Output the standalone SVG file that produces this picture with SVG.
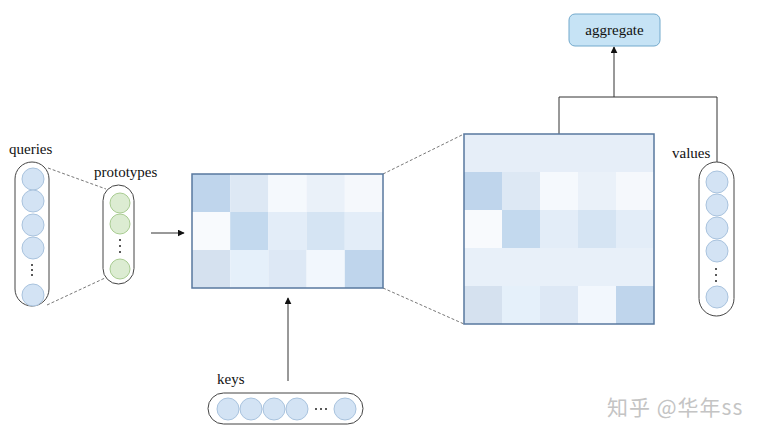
<svg xmlns="http://www.w3.org/2000/svg" width="766" height="438" viewBox="0 0 766 438">
<defs>
<style>
.lbl{font-family:"Liberation Serif","Times New Roman",serif;font-size:15px;fill:#111}
.pill{fill:#fff;stroke:#444;stroke-width:1}
.qc{fill:#d3e3f4;stroke:#a9c3de;stroke-width:1}
.gc{fill:#dcecd2;stroke:#a9cc92;stroke-width:1}
.dot{fill:#222}
.dash{stroke:#555;stroke-width:0.8;stroke-dasharray:3,2;fill:none}
.line{stroke:#333;stroke-width:1;fill:none}
.frame{fill:none;stroke:#58789f;stroke-width:1.5}
.wm{font-family:"Noto Sans CJK SC","Noto Sans",sans-serif;font-size:21px;fill:#c4c4c4;letter-spacing:1px}
</style>
<marker id="arr" viewBox="0 0 10 10" refX="9" refY="5" markerWidth="7" markerHeight="7" orient="auto" markerUnits="userSpaceOnUse">
<path d="M0,0 L10,5 L0,10 z" fill="#111"/>
</marker>
</defs>

<g id="connectors">
<line class="dash" x1="48" y1="168" x2="106" y2="189"/>
<line class="dash" x1="47" y1="305" x2="105" y2="278"/>
<line class="dash" x1="383" y1="174" x2="464" y2="134"/>
<line class="dash" x1="383" y1="288" x2="464" y2="324"/>
<line class="line" x1="151" y1="233" x2="184" y2="233" marker-end="url(#arr)"/>
<line class="line" x1="288" y1="381" x2="288" y2="298" marker-end="url(#arr)"/>
<polyline class="line" points="559,134 559,97 717,97 717,162"/>
<line class="line" x1="614" y1="97" x2="614" y2="47" marker-end="url(#arr)"/>
</g>

<g id="queries">
<text class="lbl" x="9" y="154">queries</text>
<rect class="pill" x="15" y="162" width="34" height="144" rx="17"/>
<circle class="qc" cx="33" cy="179" r="11"/>
<circle class="qc" cx="33" cy="201" r="11"/>
<circle class="qc" cx="33" cy="225" r="11"/>
<circle class="qc" cx="33" cy="248" r="11"/>
<circle class="dot" cx="32" cy="265" r="1"/>
<circle class="dot" cx="32" cy="270" r="1"/>
<circle class="dot" cx="32" cy="275" r="1"/>
<circle class="qc" cx="33" cy="295" r="11"/>
</g>

<g id="prototypes">
<text class="lbl" x="94" y="177">prototypes</text>
<rect class="pill" x="103" y="185" width="31" height="99" rx="15.5"/>
<circle class="gc" cx="120" cy="203" r="10"/>
<circle class="gc" cx="120" cy="224" r="10"/>
<circle class="dot" cx="120" cy="240" r="1"/>
<circle class="dot" cx="120" cy="246" r="1"/>
<circle class="dot" cx="120" cy="252" r="1"/>
<circle class="gc" cx="120" cy="269" r="10"/>
</g>

<g id="small-matrix">
<rect x="192" y="174" width="38.2" height="38" fill="#bfd5ec"/>
<rect x="230.2" y="174" width="38.2" height="38" fill="#dde8f4"/>
<rect x="268.4" y="174" width="38.2" height="38" fill="#f5f9fd"/>
<rect x="306.6" y="174" width="38.2" height="38" fill="#eaf1f9"/>
<rect x="344.8" y="174" width="38.2" height="38" fill="#f5f8fc"/>
<rect x="192" y="212" width="38.2" height="38" fill="#f8fafd"/>
<rect x="230.2" y="212" width="38.2" height="38" fill="#c3d9ee"/>
<rect x="268.4" y="212" width="38.2" height="38" fill="#e3edf8"/>
<rect x="306.6" y="212" width="38.2" height="38" fill="#d5e4f3"/>
<rect x="344.8" y="212" width="38.2" height="38" fill="#e3edf8"/>
<rect x="192" y="250" width="38.2" height="38" fill="#d5e1ef"/>
<rect x="230.2" y="250" width="38.2" height="38" fill="#e5f0fa"/>
<rect x="268.4" y="250" width="38.2" height="38" fill="#dde8f5"/>
<rect x="306.6" y="250" width="38.2" height="38" fill="#f2f7fd"/>
<rect x="344.8" y="250" width="38.2" height="38" fill="#bfd5ec"/>
<rect class="frame" x="192" y="174" width="191" height="114"/>
</g>

<g id="big-matrix">
<rect x="464" y="134" width="190" height="38" fill="#e6eef8"/>
<rect x="464" y="172" width="38" height="38" fill="#bfd5ec"/>
<rect x="502" y="172" width="38" height="38" fill="#dde8f4"/>
<rect x="540" y="172" width="38" height="38" fill="#f5f9fd"/>
<rect x="578" y="172" width="38" height="38" fill="#eaf1f9"/>
<rect x="616" y="172" width="38" height="38" fill="#f5f8fc"/>
<rect x="464" y="210" width="38" height="38" fill="#f8fafd"/>
<rect x="502" y="210" width="38" height="38" fill="#c3d9ee"/>
<rect x="540" y="210" width="38" height="38" fill="#e3edf8"/>
<rect x="578" y="210" width="38" height="38" fill="#d5e4f3"/>
<rect x="616" y="210" width="38" height="38" fill="#e3edf8"/>
<rect x="464" y="248" width="190" height="38" fill="#e8f0f9"/>
<rect x="464" y="286" width="38" height="38" fill="#d5e1ef"/>
<rect x="502" y="286" width="38" height="38" fill="#e5f0fa"/>
<rect x="540" y="286" width="38" height="38" fill="#dde8f5"/>
<rect x="578" y="286" width="38" height="38" fill="#f2f7fd"/>
<rect x="616" y="286" width="38" height="38" fill="#bfd5ec"/>
<rect class="frame" x="464" y="134" width="190" height="190"/>
</g>

<g id="aggregate">
<rect x="569" y="14" width="91" height="32" rx="6" fill="#c6e3f5" stroke="#72a9cc" stroke-width="1"/>
<text class="lbl" x="614.5" y="34.5" text-anchor="middle">aggregate</text>
</g>

<g id="values">
<text class="lbl" x="672" y="158">values</text>
<rect class="pill" x="699" y="162" width="35" height="154" rx="17.5"/>
<circle class="qc" cx="717" cy="182" r="11"/>
<circle class="qc" cx="717" cy="205" r="11"/>
<circle class="qc" cx="717" cy="228" r="11"/>
<circle class="qc" cx="717" cy="251" r="11"/>
<circle class="dot" cx="716" cy="269" r="1"/>
<circle class="dot" cx="716" cy="275" r="1"/>
<circle class="dot" cx="716" cy="281" r="1"/>
<circle class="qc" cx="717" cy="297" r="11"/>
</g>

<g id="keys">
<text class="lbl" x="217" y="384">keys</text>
<rect class="pill" x="208" y="393" width="155" height="31" rx="15.5"/>
<circle class="qc" cx="228" cy="409" r="11"/>
<circle class="qc" cx="251" cy="409" r="11"/>
<circle class="qc" cx="274" cy="409" r="11"/>
<circle class="qc" cx="297" cy="409" r="11"/>
<circle class="dot" cx="316" cy="409" r="1"/>
<circle class="dot" cx="321" cy="409" r="1"/>
<circle class="dot" cx="326" cy="409" r="1"/>
<circle class="qc" cx="345" cy="409" r="11"/>
</g>

<text class="wm" x="607" y="415">知乎 @华年ss</text>
</svg>
